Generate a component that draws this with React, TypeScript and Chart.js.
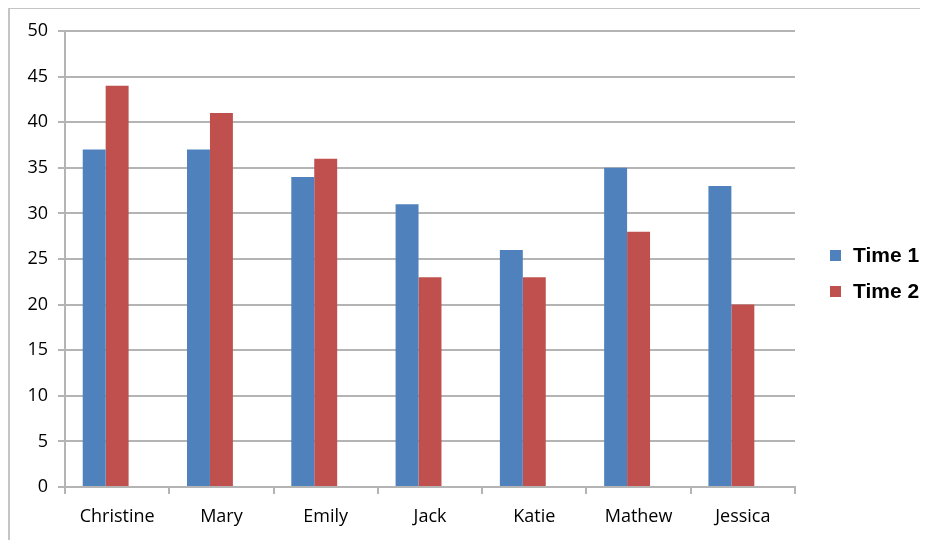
import React, { useEffect, useRef } from "react";
import { Chart, registerables } from "chart.js";

Chart.register(...registerables);

const categories = ["Christine", "Mary", "Emily", "Jack", "Katie", "Mathew", "Jessica"];
const time1 = [37, 37, 34, 31, 26, 35, 33];
const time2 = [44, 41, 36, 23, 23, 28, 20];
const seriesNames = ["Time 1", "Time 2"];
const seriesColors = ["#4F81BD", "#C0504D"];
const yTicks = [0, 5, 10, 15, 20, 25, 30, 35, 40, 45, 50];

const GRID = "#b4b4b4";
const FONT = "'Open Sans', sans-serif";

export default function App() {
  const ref = useRef<HTMLCanvasElement | null>(null);

  useEffect(() => {
    if (!ref.current) return;
    const chart = new Chart(ref.current, {
      type: "bar",
      data: {
        labels: categories,
        datasets: [
          { label: seriesNames[0], data: time1, backgroundColor: seriesColors[0], borderWidth: 0 },
          { label: seriesNames[1], data: time2, backgroundColor: seriesColors[1], borderWidth: 0 },
          { label: "", data: categories.map(() => null), backgroundColor: "transparent", borderWidth: 0 },
        ],
      },
      options: {
        animation: false,
        responsive: false,
        maintainAspectRatio: false,
        layout: { padding: { left: 0, top: 23, right: 133, bottom: 0 } },
        plugins: { legend: { display: false }, tooltip: { enabled: false } },
        datasets: { bar: { barPercentage: 1, categoryPercentage: 0.66 } },
        scales: {
          x: {
            grid: {
              display: true,
              drawOnChartArea: false,
              drawTicks: true,
              tickLength: 7,
              color: GRID,
              lineWidth: 2,
              offset: true,
            },
            border: { display: true, color: GRID, width: 2 },
            ticks: { color: "#000", font: { family: FONT, size: 18 }, padding: 12 },
            afterFit: (s: any) => {
              s.height = 53;
            },
          },
          y: {
            min: 0,
            max: 50,
            afterBuildTicks: (s: any) => {
              s.ticks = yTicks.map((v) => ({ value: v }));
            },
            grid: { color: GRID, lineWidth: 2, tickLength: 7, drawTicks: true },
            border: { display: true, color: GRID, width: 2 },
            ticks: { color: "#000", font: { family: FONT, size: 18 }, padding: 10 },
            afterFit: (s: any) => {
              s.width = 57;
            },
          },
        },
      },
    });
    return () => chart.destroy();
  }, []);

  return (
    <div style={{ position: "relative", width: 920, height: 532 }}>
      <div
        style={{
          position: "absolute",
          left: 0,
          top: -1,
          width: 920,
          height: 540,
          borderLeft: "2px solid #c4c4c4",
          borderTop: "2px solid #c4c4c4",
          boxSizing: "border-box",
        }}
      />
      <canvas ref={ref} width={920} height={532} style={{ position: "absolute", left: 0, top: 0 }} />
      {seriesNames.map((name, i) => (
        <div
          key={name}
          style={{
            position: "absolute",
            left: 822,
            top: 236 + i * 36,
            height: 22,
            display: "flex",
            alignItems: "center",
            fontFamily: "'Liberation Sans', Arial, sans-serif",
            fontWeight: "bold",
            fontSize: 21,
            color: "#000",
          }}
        >
          <span
            style={{
              display: "inline-block",
              width: 11,
              height: 11,
              background: seriesColors[i],
              marginRight: 12,
            }}
          />
          {name}
        </div>
      ))}
    </div>
  );
}
